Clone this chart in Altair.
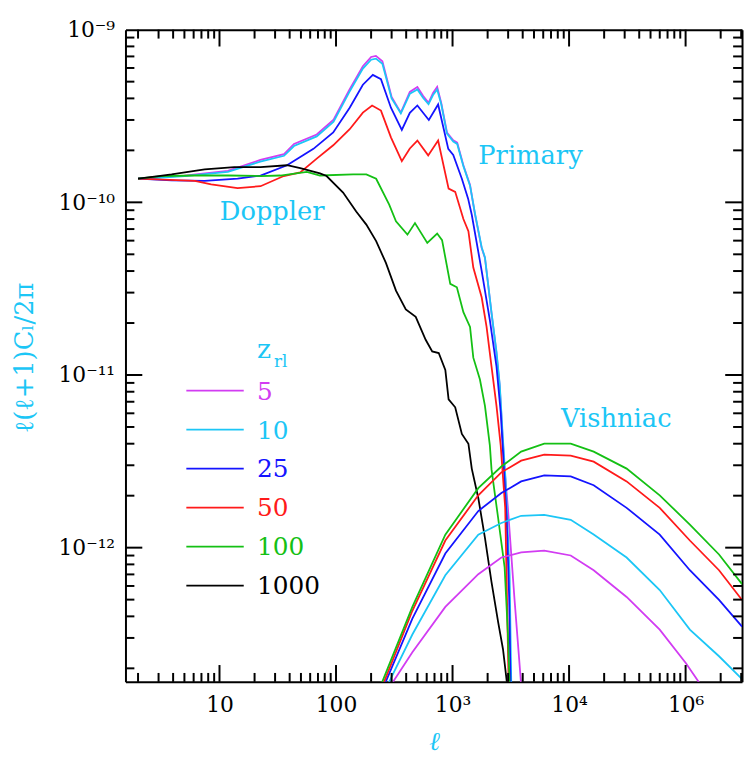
import math
import altair as alt
import pandas as pd

# ---------------- data ----------------
z_labels = ["5", "10", "25", "50", "100", "1000"]
z_colors = ["#d23cf2", "#1cc6f6", "#1414ff", "#ff1a1a", "#14c014", "#000000"]

# primary anisotropies
p5_ell = [2, 3.2, 5, 11.8, 22.4, 35.8, 43.6, 68.3, 95.3, 130, 170, 200, 220, 250, 300, 360, 430, 499, 560, 622,
          680, 738, 800, 896, 1014, 1096, 1239, 1413, 1559, 1778, 1897, 2160, 2383, 2541, 2692, 2799, 2985, 3404, 3880]
p5_C = [1.37e-10, 1.40e-10, 1.43e-10, 1.52e-10, 1.76e-10, 1.90e-10, 2.18e-10, 2.47e-10, 3.01e-10, 4.48e-10,
        6.14e-10, 6.95e-10, 7.05e-10, 6.56e-10, 4.08e-10, 3.31e-10, 4.36e-10, 4.66e-10, 4.13e-10, 3.77e-10,
        4.30e-10, 4.66e-10, 3.77e-10, 2.54e-10, 2.29e-10, 2.22e-10, 1.64e-10, 1.26e-10, 8.5e-11, 5.43e-11,
        4.76e-11, 2.28e-11, 1.34e-11, 8.6e-12, 4.3e-12, 2.8e-12, 1.7e-12, 5.0e-13, 1.6e-13]

p10_ell = [2, 3.2, 5, 11.8, 22.4, 35.8, 43.6, 68.3, 95.3, 130, 170, 200, 220, 250, 300, 360, 430, 499, 560, 622,
           680, 738, 800, 896, 1014, 1096, 1239, 1413, 1559, 1778, 1897, 2160, 2383, 2541, 2692, 2850, 2985, 3090, 3192]
p10_C = [1.37e-10, 1.39e-10, 1.42e-10, 1.50e-10, 1.72e-10, 1.86e-10, 2.12e-10, 2.41e-10, 2.93e-10, 4.35e-10,
         5.95e-10, 6.70e-10, 6.80e-10, 6.35e-10, 4.00e-10, 3.28e-10, 4.25e-10, 4.50e-10, 4.02e-10, 3.70e-10,
         4.18e-10, 4.50e-10, 3.70e-10, 2.50e-10, 2.25e-10, 2.18e-10, 1.62e-10, 1.25e-10, 8.6e-11, 5.5e-11,
         4.8e-11, 2.3e-11, 1.36e-11, 8.8e-12, 4.5e-12, 2.5e-12, 1.2e-12, 7.0e-13, 1.6e-13]

p25_ell = [2, 3.88, 7.46, 14.3, 22.5, 38.0, 64.0, 94.6, 131, 170, 207, 243, 296, 367, 430, 499, 626, 752, 919, 1014,
           1202, 1360, 1462, 1778, 2090, 2383, 2590, 2710, 2912, 3060, 3150]
p25_C = [1.37e-10, 1.34e-10, 1.33e-10, 1.37e-10, 1.43e-10, 1.64e-10, 2.04e-10, 2.54e-10, 3.53e-10, 4.80e-10,
         5.47e-10, 5.17e-10, 3.53e-10, 2.63e-10, 3.30e-10, 3.64e-10, 3.00e-10, 3.69e-10, 2.04e-10, 1.88e-10,
         1.37e-10, 1.05e-10, 8.47e-11, 4.01e-11, 2.08e-11, 1.12e-11, 6.09e-12, 3.60e-12, 1.49e-12, 5.18e-13, 1.6e-13]

p50_ell = [2, 6.14, 8.49, 14.3, 22.5, 35.6, 49.3, 68.3, 94.6, 131, 170, 204, 243, 296, 367, 430, 499, 618, 752, 925,
           1054, 1239, 1368, 1507, 1778, 1959, 2160, 2383, 2590, 2831, 2897, 3030]
p50_C = [1.37e-10, 1.33e-10, 1.27e-10, 1.21e-10, 1.24e-10, 1.42e-10, 1.49e-10, 1.79e-10, 2.14e-10, 2.65e-10,
         3.31e-10, 3.64e-10, 3.40e-10, 2.38e-10, 1.73e-10, 2.05e-10, 2.28e-10, 1.87e-10, 2.28e-10, 1.20e-10,
         1.15e-10, 8.0e-11, 6.8e-11, 4.19e-11, 2.82e-11, 1.90e-11, 1.12e-11, 6.62e-12, 3.91e-12, 1.70e-12,
         7.69e-13, 1.6e-13]

p100_ell = [2, 3.19, 6.14, 11.8, 22.5, 33.3, 56.2, 72.8, 140, 182, 221, 286, 327, 410, 476, 607, 738, 813, 956, 1089,
            1239, 1413, 1507, 1718, 1897, 2090, 2160, 2460, 2799, 2985, 3090]
p100_C = [1.37e-10, 1.42e-10, 1.43e-10, 1.43e-10, 1.42e-10, 1.43e-10, 1.50e-10, 1.43e-10, 1.45e-10, 1.45e-10,
          1.37e-10, 9.70e-11, 7.76e-11, 6.50e-11, 7.58e-11, 5.82e-11, 6.60e-11, 6.04e-11, 3.37e-11, 3.22e-11,
          2.31e-11, 1.90e-11, 1.26e-11, 9.41e-12, 6.62e-12, 3.91e-12, 2.84e-12, 1.49e-12, 7.69e-13, 3.19e-13, 1.6e-13]

p1000_ell = [2, 2.99, 3.88, 5.38, 7.46, 13.4, 22.5, 38.0, 49.3, 72.8, 83.0, 115, 149, 182, 221, 268, 327, 397, 483,
             588, 669, 761, 867, 925, 1054, 1202, 1368, 1462, 1663, 1897, 2160, 2460, 2710, 2944]
p1000_C = [1.37e-10, 1.42e-10, 1.45e-10, 1.50e-10, 1.55e-10, 1.60e-10, 1.60e-10, 1.64e-10, 1.58e-10, 1.47e-10,
           1.42e-10, 1.14e-10, 8.85e-11, 7.43e-11, 5.96e-11, 4.46e-11, 3.08e-11, 2.40e-11, 2.17e-11, 1.60e-11,
           1.37e-11, 1.34e-11, 1.07e-11, 7.23e-12, 6.50e-12, 4.56e-12, 4.00e-12, 2.87e-12, 1.94e-12, 1.14e-12,
           6.31e-13, 3.72e-13, 2.58e-13, 1.6e-13]

# Vishniac (secondary) anisotropies
v5_ell = [296, 452, 867, 1663, 2624, 3880, 6123, 10330, 16260, 31180, 59970, 100700, 135200]
v5_C = [1.6e-13, 2.48e-13, 4.54e-13, 7.02e-13, 8.77e-13, 9.38e-13, 9.62e-13, 9.01e-13, 7.40e-13, 5.18e-13,
        3.35e-13, 2.14e-13, 1.6e-13]
v10_ell = [277, 452, 867, 1663, 2624, 3880, 6123, 10330, 16260, 31180, 59970, 108800, 193600, 305200]
v10_C = [1.6e-13, 3.14e-13, 6.92e-13, 1.19e-12, 1.39e-12, 1.53e-12, 1.55e-12, 1.45e-12, 1.19e-12, 8.77e-13,
         5.68e-13, 3.35e-13, 2.35e-13, 1.73e-13]
v25_ell = [260, 452, 867, 1663, 2624, 3880, 6123, 10330, 16260, 31180, 59970, 108800, 193600, 305200]
v25_C = [1.6e-13, 3.88e-13, 9.25e-13, 1.63e-12, 2.07e-12, 2.42e-12, 2.62e-12, 2.59e-12, 2.30e-12, 1.70e-12,
         1.19e-12, 7.40e-13, 4.98e-13, 3.49e-13]
v50_ell = [252, 452, 867, 1663, 2624, 3880, 6123, 10330, 16260, 31180, 59970, 108800, 193600, 305200]
v50_C = [1.6e-13, 4.31e-13, 1.10e-12, 2.01e-12, 2.73e-12, 3.19e-12, 3.46e-12, 3.41e-12, 3.15e-12, 2.42e-12,
         1.70e-12, 1.10e-12, 7.40e-13, 4.98e-13]
v100_ell = [243, 452, 867, 1663, 2624, 3880, 6123, 10330, 16260, 31180, 59970, 108800, 193600, 305200]
v100_C = [1.6e-13, 4.54e-13, 1.19e-12, 2.21e-12, 2.95e-12, 3.60e-12, 4.00e-12, 4.00e-12, 3.60e-12, 2.87e-12,
          2.01e-12, 1.36e-12, 9.13e-13, 6.15e-13]

primary = [(p5_ell, p5_C), (p10_ell, p10_C), (p25_ell, p25_C), (p50_ell, p50_C), (p100_ell, p100_C),
           (p1000_ell, p1000_C)]
vishniac = [(v5_ell, v5_C), (v10_ell, v10_C), (v25_ell, v25_C), (v50_ell, v50_C), (v100_ell, v100_C)]

# axis ticks and labels
x_label_vals = [10, 100, 1000, 10000, 100000]
x_label_text = ["10", "100", "10³", "10⁴", "10⁶"]
y_label_vals = [1e-12, 1e-11, 1e-10, 1e-9]
y_label_text = ["10⁻¹²", "10⁻¹¹", "10⁻¹⁰", "10⁻⁹"]
x_major = [10, 100, 1000, 10000, 100000]
x_minor = [2, 3, 4, 5, 6, 7, 8, 9, 20, 30, 40, 50, 60, 70, 80, 90, 200, 300, 400, 500, 600, 700, 800, 900,
           2000, 3000, 4000, 5000, 6000, 7000, 8000, 9000, 20000, 30000, 40000, 50000, 60000, 70000, 80000, 90000,
           200000, 300000]
y_major = [1e-12, 1e-11, 1e-10]
y_minor = [2e-13, 3e-13, 4e-13, 5e-13, 6e-13, 7e-13, 8e-13, 9e-13, 2e-12, 3e-12, 4e-12, 5e-12, 6e-12, 7e-12,
           8e-12, 9e-12, 2e-11, 3e-11, 4e-11, 5e-11, 6e-11, 7e-11, 8e-11, 9e-11, 2e-10, 3e-10, 4e-10, 5e-10,
           6e-10, 7e-10, 8e-10, 9e-10]

annotations = ["Doppler", "Primary", "Vishniac"]

# ---------------- layout ----------------
W, H = 623, 659
FONT = "DejaVu Serif"
CYAN = "#1cc6f6"
MAJ, MIN = 17, 9
XMIN, XMAX = 1.56, 3.05e5
YMIN, YMAX = 1.67e-13, 1e-9
XSPAN = math.log10(XMAX / XMIN)
YSPAN = math.log10(YMAX / YMIN)

xscale = alt.Scale(type="log", domain=[XMIN, XMAX], nice=False)
yscale = alt.Scale(type="log", domain=[YMIN, YMAX], nice=False)


def label_expr(vals, texts):
    return ("[" + ",".join("'%s'" % t for t in texts) + "][indexof(["
            + ",".join(repr(v) for v in vals) + "], datum.value)]")


common_axis = dict(grid=False, domainColor="black", domainWidth=2)

ax_x_labels = alt.Axis(orient="bottom", values=x_label_vals, labelExpr=label_expr(x_label_vals, x_label_text),
                       ticks=False, domain=True, labelFont=FONT, labelFontSize=22, labelColor="black",
                       labelPadding=13, labelFlush=False, labelOverlap=False,
                       title="ℓ", titleFont=FONT, titleFontStyle="italic", titleFontWeight="normal",
                       titleFontSize=26, titleColor=CYAN, titleX=W / 2, titleY=60, titleAlign="center",
                       titleBaseline="middle", **common_axis)
ax_y_labels = alt.Axis(orient="left", values=y_label_vals, labelExpr=label_expr(y_label_vals, y_label_text),
                       ticks=False, domain=True, labelFont=FONT, labelFontSize=22, labelColor="black",
                       labelPadding=11, labelFlush=False, labelOverlap=False,
                       title="ℓ(ℓ+1)Cₗ/2π", titleFont=FONT, titleFontWeight="normal", titleFontSize=26,
                       titleColor=CYAN, titleAngle=270, titleX=-102, titleY=331, titleAlign="center",
                       titleBaseline="middle", **common_axis)
# frame lines on the top and right edges
ax_x_top = alt.Axis(orient="bottom", offset=-H, values=x_major, labels=False, ticks=False, domain=True,
                    title=None, **common_axis)
ax_y_right = alt.Axis(orient="left", offset=-W, values=y_major, labels=False, ticks=False, domain=True,
                      title=None, **common_axis)
axis_sets = [(ax_x_labels, ax_y_labels), (ax_x_top, ax_y_right)]

layers = []
k = 0
for group in (primary, vishniac):
    for i, (ells, cs) in enumerate(group):
        df = pd.DataFrame({"ell": ells, "C": cs})
        ax_x, ax_y = axis_sets[k] if k < len(axis_sets) else (None, None)
        layers.append(
            alt.Chart(df).mark_line(color=z_colors[i], strokeWidth=1.8, clip=True).encode(
                x=alt.X("ell:Q", scale=xscale, axis=ax_x),
                y=alt.Y("C:Q", scale=yscale, axis=ax_y),
            )
        )
        k += 1

# inward-pointing tick marks on all four sides: short two-point segments through the same log scales
xt_rows, yt_rows = [], []
for vals, size in ((x_major, MAJ), (x_minor, MIN)):
    f = 10 ** (size / H * YSPAN)
    for n, v in enumerate(vals):
        for side, (a, b) in (("b", (YMIN, YMIN * f)), ("t", (YMAX, YMAX / f))):
            key = "%s%d_%s" % (side, size, n)
            xt_rows += [{"tickval": v, "end": a, "key": key}, {"tickval": v, "end": b, "key": key}]
for vals, size in ((y_major, MAJ), (y_minor, MIN)):
    f = 10 ** (size / W * XSPAN)
    for n, v in enumerate(vals):
        for side, (a, b) in (("l", (XMIN, XMIN * f)), ("r", (XMAX, XMAX / f))):
            key = "%s%d_%s" % (side, size, n)
            yt_rows += [{"tickval": v, "end": a, "key": key}, {"tickval": v, "end": b, "key": key}]

x_tick_layer = alt.Chart(pd.DataFrame(xt_rows)).mark_line(color="black", strokeWidth=2).encode(
    x=alt.X("tickval:Q", scale=xscale, axis=None),
    y=alt.Y("end:Q", scale=yscale, axis=None),
    detail="key:N",
)
y_tick_layer = alt.Chart(pd.DataFrame(yt_rows)).mark_line(color="black", strokeWidth=2).encode(
    x=alt.X("end:Q", scale=xscale, axis=None),
    y=alt.Y("tickval:Q", scale=yscale, axis=None),
    detail="key:N",
)

# legend drawn inside the plot
leg_df = pd.DataFrame({"z": z_labels, "rank": list(range(len(z_labels)))})
color_enc = alt.Color("z:N", scale=alt.Scale(domain=z_labels, range=z_colors), legend=None)
leg_base = alt.Chart(leg_df).transform_calculate(ypix="364.7 + 39.4 * datum.rank")
leg_lines = leg_base.mark_rule(strokeWidth=1.8).encode(
    x=alt.value(61.5), x2=alt.value(119.5), y=alt.Y("ypix:Q", scale=None), color=color_enc)
leg_text = leg_base.mark_text(align="left", baseline="middle", font=FONT, fontSize=25, dy=1).encode(
    x=alt.value(133), y=alt.Y("ypix:Q", scale=None), text="z:N", color=color_enc)

head_df = pd.DataFrame({"t": ["z"]})
sub_df = pd.DataFrame({"t": ["rl"]})
leg_head = alt.Chart(head_df).mark_text(align="left", baseline="alphabetic", font=FONT, fontSize=27,
                                         color=CYAN).encode(x=alt.value(133), y=alt.value(332), text="t:N")
leg_sub = alt.Chart(sub_df).mark_text(align="left", baseline="alphabetic", font=FONT, fontSize=17,
                                       color=CYAN).encode(x=alt.value(150), y=alt.value(341), text="t:N")

ann_pos = [(95.3, 192.5), (356.5, 135.5), (440, 401)]
ann_layers = []
for name, (px, py) in zip(annotations, ann_pos):
    ann_layers.append(
        alt.Chart(pd.DataFrame({"t": [name]})).mark_text(
            align="left", baseline="alphabetic", font=FONT, fontSize=26, color=CYAN
        ).encode(x=alt.value(px), y=alt.value(py), text="t:N")
    )

chart = alt.layer(*layers, x_tick_layer, y_tick_layer, leg_lines, leg_text, leg_head, leg_sub,
                  *ann_layers).resolve_axis(
    x="independent", y="independent"
).properties(
    width=W, height=H,
    autosize=alt.AutoSizeParams(type="none"),
    padding={"left": 118.7, "top": 18, "right": 3, "bottom": 70},
    background="white",
).configure_view(stroke=None)

chart.save("out.html", embed_options={"renderer": "svg", "actions": False})
